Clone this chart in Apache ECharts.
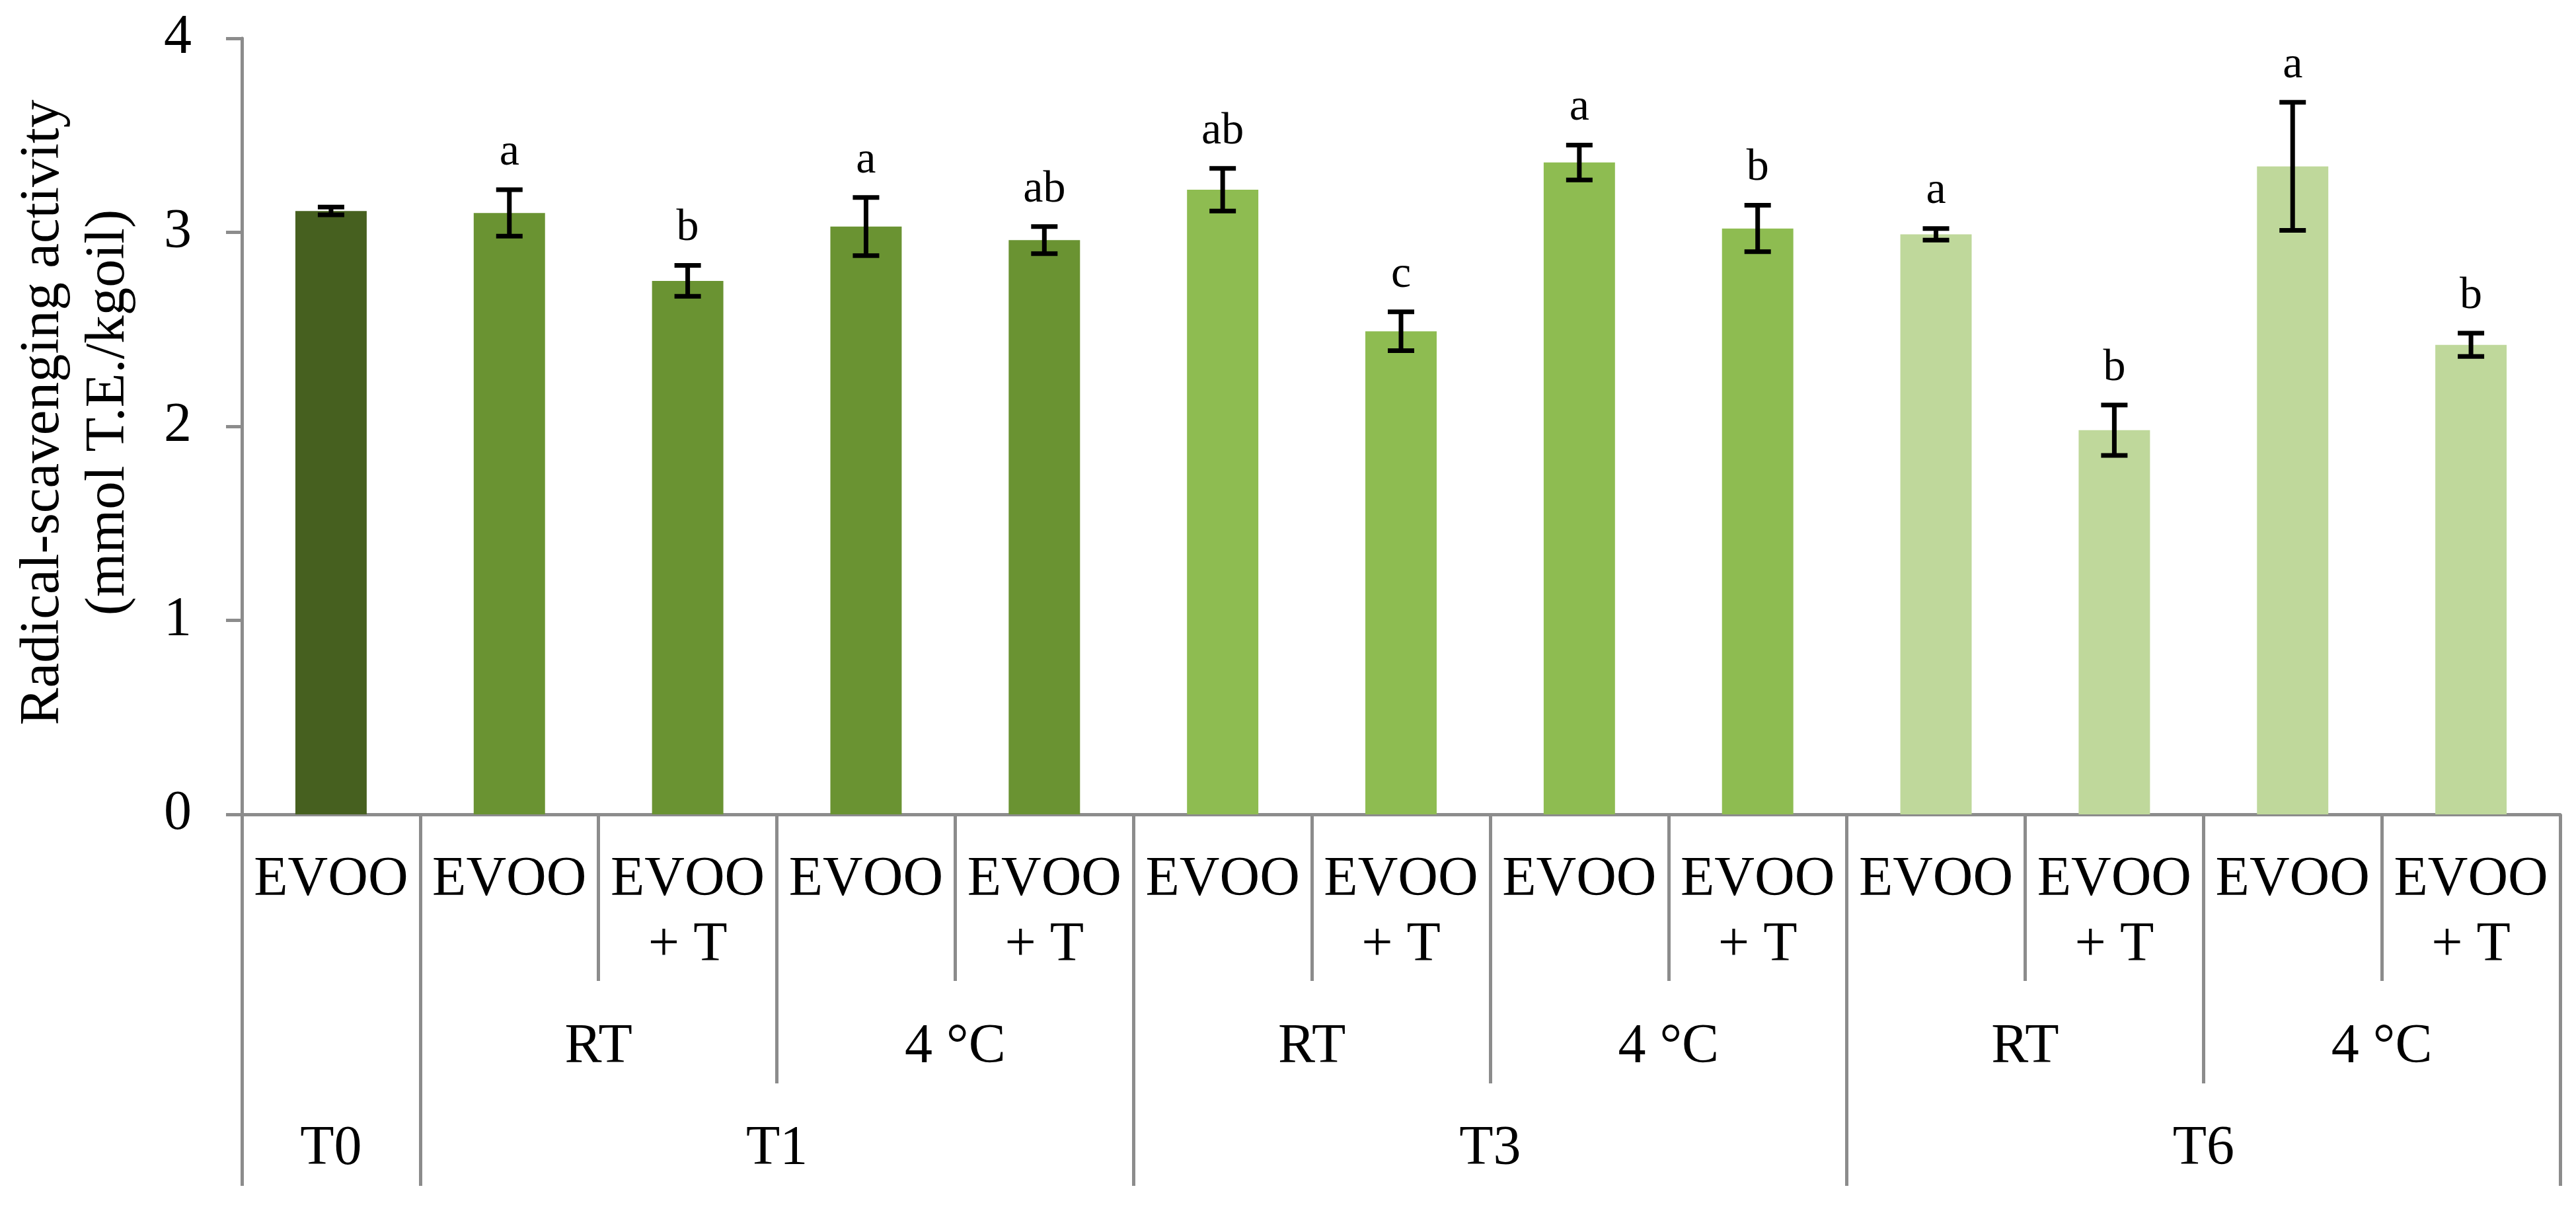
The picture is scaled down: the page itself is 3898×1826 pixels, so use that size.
<!DOCTYPE html>
<html>
<head>
<meta charset="utf-8">
<title>Radical-scavenging activity</title>
<script src="https://cdn.jsdelivr.net/npm/echarts@6/dist/echarts.min.js"></script>
<style>
  html, body { margin: 0; padding: 0; background: #fff; }
  #chart { width: 3898px; height: 1826px; }
</style>
</head>
<body>
<div id="chart"></div>
<script>
// one entry per bar, left to right
const sampleLabels = ['EVOO', 'EVOO', 'EVOO\n+ T', 'EVOO', 'EVOO\n+ T', 'EVOO', 'EVOO\n+ T',
  'EVOO', 'EVOO\n+ T', 'EVOO', 'EVOO\n+ T', 'EVOO', 'EVOO\n+ T']
const storageLabels = ['', 'RT', 'RT', '4 °C', '4 °C', 'RT', 'RT', '4 °C', '4 °C', 'RT', 'RT', '4 °C', '4 °C']
const timeLabels = ['T0', 'T1', 'T1', 'T1', 'T1', 'T3', 'T3', 'T3', 'T3', 'T6', 'T6', 'T6', 'T6']
const activity = [3.11, 3.10, 2.75, 3.03, 2.96, 3.22, 2.49, 3.36, 3.02, 2.99, 1.98, 3.34, 2.42]
const activitySd = [0.02, 0.12, 0.08, 0.15, 0.07, 0.11, 0.10, 0.09, 0.12, 0.03, 0.13, 0.33, 0.06]
const letters = ['', 'a', 'b', 'a', 'ab', 'ab', 'c', 'a', 'b', 'a', 'b', 'a', 'b']
const yTicks = [0, 1, 2, 3, 4]

const timeColors = { T0: '#46601f', T1: '#6a9332', T3: '#8ebc51', T6: '#bfd89b' }
const font = '"Liberation Serif", "Times New Roman", serif'
const lineColor = '#8c8c8c'

// runs of equal keys -> { label, start, len }
function groupsOf(keys, labels) {
  const out = []
  keys.forEach((k, i) => {
    const last = out[out.length - 1]
    if (last && last.key === k) last.len++
    else out.push({ key: k, label: labels[i], start: i, len: 1 })
  })
  return out
}
const storageGroups = groupsOf(timeLabels.map((t, i) => t + '|' + storageLabels[i]), storageLabels)
const timeGroups = groupsOf(timeLabels, timeLabels)
const storageStarts = new Set(storageGroups.map(g => g.start))
const timeStarts = new Set(timeGroups.map(g => g.start))

function groupLabel(groups) {
  return v => {
    const g = groups.find(g => Math.abs(g.start + g.len / 2 - v) < 1e-6)
    return g ? g.label : ''
  }
}

// category axis that only draws divider ticks
function dividerAxis(show, length) {
  return {
    type: 'category',
    data: sampleLabels,
    position: 'bottom',
    axisLine: { show: false },
    axisLabel: { show: false },
    axisTick: { show: true, interval: show, length: length, lineStyle: { color: lineColor, width: 5 } },
    splitLine: { show: false }
  }
}

// value axis 0..n used to center group labels under their bars
function groupAxis(groups, margin) {
  return {
    type: 'value',
    min: 0,
    max: sampleLabels.length,
    interval: 0.5,
    position: 'bottom',
    axisLine: { show: false },
    axisTick: { show: false },
    splitLine: { show: false },
    axisLabel: {
      margin: margin,
      formatter: groupLabel(groups),
      fontFamily: font,
      fontSize: 84,
      lineHeight: 99,
      color: '#000'
    }
  }
}

const chart = echarts.init(document.getElementById('chart'))
chart.setOption({
  animation: false,
  grid: { left: 366, right: 24, top: 58, bottom: 594, containLabel: false, outerBoundsMode: 'none' },
  xAxis: [
    {
      type: 'category',
      data: sampleLabels,
      position: 'bottom',
      axisLine: { show: true, lineStyle: { color: lineColor, width: 5 } },
      axisTick: { show: true, interval: 0, length: 252, lineStyle: { color: lineColor, width: 5 } },
      axisLabel: { interval: 0, margin: 50, fontFamily: font, fontSize: 84, lineHeight: 99, color: '#000' },
      splitLine: { show: false }
    },
    dividerAxis(i => storageStarts.has(i), 407),
    dividerAxis(i => timeStarts.has(i), 562),
    groupAxis(storageGroups.filter(g => g.label), 303),
    groupAxis(timeGroups, 457)
  ],
  yAxis: {
    type: 'value',
    min: yTicks[0],
    max: yTicks[yTicks.length - 1],
    interval: yTicks[1] - yTicks[0],
    axisLine: { show: true, lineStyle: { color: lineColor, width: 5 } },
    axisTick: { show: true, length: 24, lineStyle: { color: lineColor, width: 5 } },
    splitLine: { show: false },
    axisLabel: { margin: 76, fontFamily: font, fontSize: 84, color: '#000' },
    name: 'Radical-scavenging activity\n(mmol T.E./kgoil)',
    nameLocation: 'middle',
    nameGap: 152,
    nameTextStyle: { fontFamily: font, fontSize: 85, lineHeight: 99, color: '#000', padding: [0, 0, 0, 42] }
  },
  series: [
    {
      type: 'bar',
      barWidth: '40%',
      data: activity.map((v, i) => ({ value: v, itemStyle: { color: timeColors[timeLabels[i]] } }))
    },
    {
      // error bars with significance letters above
      type: 'custom',
      data: activity.map((v, i) => [i, v, activitySd[i]]),
      z: 5,
      renderItem(params, api) {
        const x = api.value(0)
        const v = api.value(1)
        const sd = api.value(2)
        const hi = api.coord([x, v + sd])
        const lo = api.coord([x, v - sd])
        const cap = 20
        const style = { stroke: '#000', lineWidth: 7 }
        return {
          type: 'group',
          children: [
            { type: 'line', shape: { x1: hi[0], y1: hi[1], x2: lo[0], y2: lo[1] }, style },
            { type: 'line', shape: { x1: hi[0] - cap, y1: hi[1], x2: hi[0] + cap, y2: hi[1] }, style },
            { type: 'line', shape: { x1: lo[0] - cap, y1: lo[1], x2: lo[0] + cap, y2: lo[1] }, style },
            {
              type: 'text',
              x: hi[0],
              y: hi[1] - 22,
              style: {
                text: letters[params.dataIndex],
                align: 'center',
                textAlign: 'center',
                verticalAlign: 'bottom',
                textVerticalAlign: 'bottom',
                fontFamily: font,
                fontSize: 68,
                fill: '#000'
              }
            }
          ]
        }
      }
    }
  ]
})
</script>
</body>
</html>
